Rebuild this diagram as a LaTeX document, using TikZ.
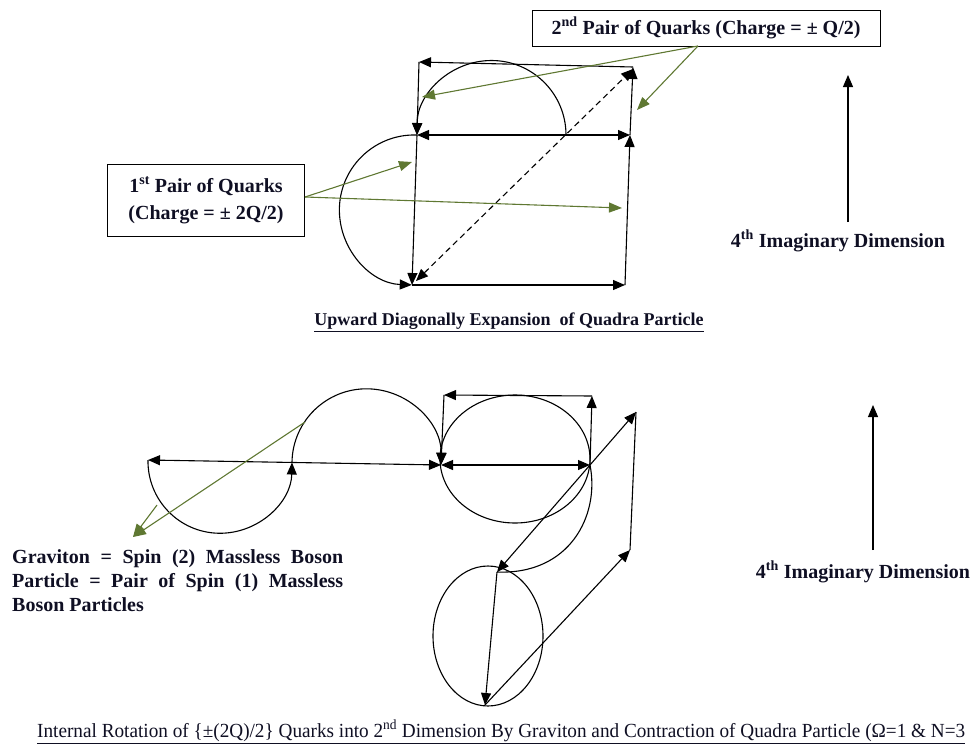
\documentclass[tikz,border=0pt]{standalone}
\usepackage{fontspec}
\usepackage{graphicx}
\setmainfont{Liberation Serif}
\usetikzlibrary{arrows.meta}
\definecolor{txt}{RGB}{15,15,35}
\definecolor{gcol}{RGB}{95,120,50}
\begin{document}
\begin{tikzpicture}[x=1pt,y=-1pt,
  ln/.style={line width=1.1pt,black},
  arr/.style={ln,-{Triangle[length=12pt,width=10pt]}},
  darr/.style={ln,{Triangle[length=12pt,width=10pt]}-{Triangle[length=12pt,width=10pt]}},
  garr/.style={line width=1.1pt,gcol,-{Triangle[length=13pt,width=10pt]}},
  lbl/.style={font=\fontsize{20}{24}\selectfont\bfseries,text=txt,inner sep=0pt},
  boxed/.style={lbl,draw=black,line width=1pt}]
\useasboundingbox (0,0) rectangle (972,747);

% ---------- top diagram ----------
\coordinate (A) at (419,62);
\coordinate (B) at (633,67);
\coordinate (C) at (417,135);
\coordinate (D) at (630,135);
\coordinate (E) at (412,285);
\coordinate (F) at (625,285);
\coordinate (M) at (566,135);
\coordinate (Ed) at (416,281);
\coordinate (Bd) at (633,69);

\draw[arr] (B) -- (A);
\draw[arr] (A) -- (C);
\draw[darr] (C) -- (D);
\draw[arr] (D) -- (B);
\draw[arr] (F) -- (D);
\draw[arr] (E) -- (F);
\draw[arr] (C) -- (E);
\draw[arr] (M) arc[start angle=0,end angle=180,radius=74.5pt];
\draw[arr] (C) arc[start angle=88,end angle=268,radius=75pt];
\draw[darr,dash pattern=on 6pt off 4pt] (Ed) -- (Bd);

\node[boxed,minimum width=348pt,minimum height=36pt] (box2) at (706,28)
  {2\textsuperscript{nd} Pair of Quarks (Charge = ± Q/2)};
\node[boxed,minimum width=197pt,minimum height=72pt,align=center,
  font=\fontsize{20}{27}\selectfont\bfseries] (box1) at (206,200)
  {1\textsuperscript{st} Pair of Quarks\\(Charge = ± 2Q/2)};

\coordinate (g2) at (698,46);
\coordinate (g2a) at (422,97);
\coordinate (g2b) at (637,110);
\coordinate (g1) at (305,197);
\coordinate (g1a) at (412,162);
\coordinate (g1b) at (622,208);
\draw[garr] (g2) -- (g2a);
\draw[garr] (g2) -- (g2b);
\draw[garr] (g1) -- (g1a);
\draw[garr] (g1) -- (g1b);

\node[lbl] (dim1) at (838,241) {4\textsuperscript{th} Imaginary Dimension};
\coordinate (u1a) at (848,222);
\coordinate (u1b) at (848,75);
\draw[arr] (u1a) -- (u1b);

\node[lbl,font=\fontsize{18}{22}\selectfont\bfseries] (cap1) at (509,322)
  {\underline{Upward Diagonally Expansion\ \ of Quadra Particle}};

% ---------- bottom diagram ----------
\coordinate (P1) at (148,460);
\coordinate (P2) at (292,462);
\coordinate (P3) at (441,465);
\draw[darr] (P3) -- (P1);
\draw[arr] (P1) arc[start angle=179,end angle=359,radius=72pt];
\draw[arr] (P2) arc[start angle=179,end angle=-1,radius=74.5pt];

\coordinate (Q2) at (590,465);
\coordinate (T1) at (444,395);
\coordinate (T2) at (592,396);
\draw[ln] (515,459) ellipse[x radius=75pt,y radius=64pt];
\draw[darr] (P3) -- (Q2);
\draw[arr] (Q2) -- (T2);
\draw[arr] (T2) -- (T1);
\draw[arr] (T1) -- (P3);

\coordinate (R1) at (636,412);
\coordinate (R2) at (630,550);
\coordinate (L1) at (497,572);
\coordinate (L2) at (485,705);
\draw[arr] (Q2) -- (R1);
\draw[ln] (R2) -- (R1);
\draw[arr] (Q2) -- (L1);
\draw[ln] (Q2) .. controls (600,515) and (570,575) .. (L1);
\draw[ln] (488,636) ellipse[x radius=55pt,y radius=70pt];
\draw[arr] (L1) -- (L2);
\draw[arr] (L2) -- (R2);

\coordinate (GT) at (133,537);
\coordinate (g3) at (305,422);
\coordinate (g4) at (157,505);
\draw[garr] (g3) -- (GT);
\draw[garr] (g4) -- (GT);

\node[lbl,anchor=north west,text width=331pt,align=justify] (grav) at (12,549)
  {Graviton = Spin (2) Massless Boson\linebreak
   Particle = Pair of Spin (1) Massless\linebreak
   Boson Particles};

\node[lbl] (dim2) at (863,572) {4\textsuperscript{th} Imaginary Dimension};
\coordinate (u2a) at (873,550);
\coordinate (u2b) at (873,405);
\draw[arr] (u2a) -- (u2b);

\node[lbl,anchor=base west,font=\fontsize{20}{24}\selectfont] (cap2) at (37,737)
  {\resizebox{928pt}{\height}{\underline{Internal Rotation of \{±(2Q)/2\} Quarks into 2\textsuperscript{nd} Dimension By Graviton and Contraction of Quadra Particle (Ω=1 \& N=3}}};
\end{tikzpicture}
\end{document}
